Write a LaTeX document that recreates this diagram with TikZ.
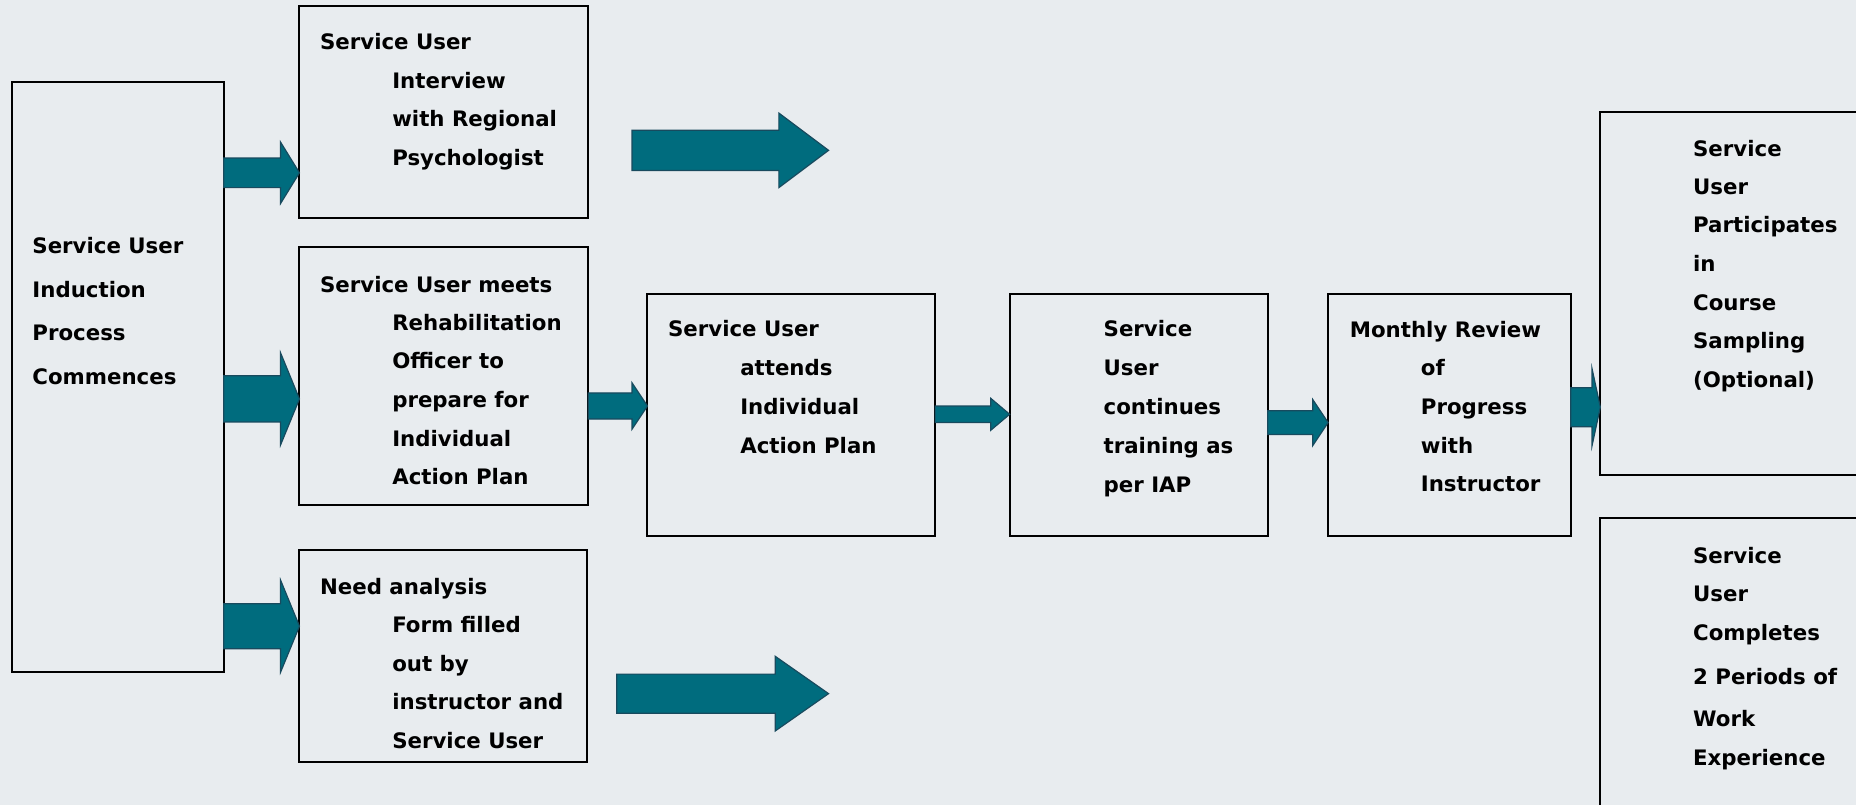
\documentclass[tikz,border=0pt]{standalone}
\usepackage{fontspec}
\setmainfont{DejaVu Sans}
\usetikzlibrary{calc,fit}

\definecolor{pagebg}{RGB}{232,236,239}
\definecolor{arrowfill}{RGB}{0,108,126}
\definecolor{arrowline}{RGB}{24,74,94}

% block arrow: #1 tail point (x used), #2 tip point, #3 shaft half-width,
% #4 head half-width, #5 head length
\newcommand\blockarr[5]{%
  \draw[blockarrow] ($(#1 |- #2)+(0,-#3)$) -- ($(#2)+(-#5,-#3)$)
    -- ($(#2)+(-#5,-#4)$) -- (#2) -- ($(#2)+(-#5,#4)$)
    -- ($(#2)+(-#5,#3)$) -- ($(#1 |- #2)+(0,#3)$) -- cycle;}

% one text node per printed line: entries are text/x/baseline-y
\newcommand\textlines[2]{%
  \foreach \t/\x/\y [count=\i] in {#2}
    \node[txt] (#1-\i) at (\x,\y) {\t};}

\begin{document}
\begin{tikzpicture}[x=0.5pt,y=-0.5pt,
  box/.style={draw=black, line width=0.85pt, inner sep=0pt, outer sep=0pt},
  txt/.style={anchor=base west, inner sep=0pt, text=black,
    font=\fontsize{9pt}{11pt}\selectfont\bfseries},
  blockarrow/.style={fill=arrowfill, draw=arrowline, line width=0.5pt,
    line join=miter}]

\fill[pagebg] (0,0) rectangle (1568,680);
\useasboundingbox (0,0) rectangle (1568,680);
\clip (0,0) rectangle (1568,680);

% process boxes
\node[box, fit={(10,69) (189,568)}] (L) {};
\node[box, fit={(253,5) (497,184)}] (A) {};
\node[box, fit={(253,209) (497,427)}] (B) {};
\node[box, fit={(253,465) (496,644)}] (C) {};
\node[box, fit={(547,248) (790,453)}] (D) {};
\node[box, fit={(853,248) (1071,453)}] (E) {};
\node[box, fit={(1122,248) (1327,453)}] (F) {};
\node[box, fit={(1352,95) (1640,401)}] (G) {};
\node[box, fit={(1352,438) (1640,730)}] (H) {};

% arrow tips on the receiving boxes
\coordinate (tA) at (A.west |- 0,146);
\coordinate (tB) at (B.west |- 0,337);
\coordinate (tC) at (C.west |- 0,529);
\coordinate (tD) at (D.west |- 0,343);
\coordinate (tE) at (E.west |- 0,350);
\coordinate (tF) at (F.west |- 0,357);
\coordinate (tG) at (G.west |- 0,344);
% free-standing arrows
\coordinate (fa1) at (534,127);
\coordinate (fa1tip) at (700,127);
\coordinate (fa2) at (521,586);
\coordinate (fa2tip) at (700,586);

\blockarr{L.east}{tA}{12.5}{26}{16}
\blockarr{L.east}{tB}{19.5}{39}{16}
\blockarr{L.east}{tC}{19}{39}{16}
\blockarr{fa1}{fa1tip}{17}{31.5}{42}
\blockarr{fa2}{fa2tip}{16.5}{31.5}{45}
\blockarr{B.east}{tD}{11}{19.5}{13}
\blockarr{D.east}{tE}{7}{13.5}{16}
\blockarr{E.east}{tF}{10}{19.5}{13}
\blockarr{F.east}{tG}{16.5}{32.5}{7}

% box texts
\textlines{L}{Service User/27/214, Induction/27/251, Process/27/288, Commences/27/325}
\textlines{A}{Service User/270/42, Interview/331/75, with Regional/331/107, Psychologist/331/140}
\textlines{B}{Service User meets/270/247, Rehabilitation/331/279, Officer to/331/311,
  prepare for/331/344, Individual/331/377, Action Plan/331/409}
\textlines{C}{Need analysis/270/502, Form filled/331/534, out by/331/567,
  instructor and/331/599, Service User/331/632}
\textlines{D}{Service User/564/284, attends/625/317, Individual/625/350, Action Plan/625/383}
\textlines{E}{Service/932/284, User/932/317, continues/932/350, training as/932/383, per IAP/932/416}
\textlines{F}{Monthly Review/1140/285, of/1200/317, Progress/1200/350, with/1200/383, Instructor/1200/415}
\textlines{G}{Service/1430/132, User/1430/164, Participates/1430/196, in/1430/229,
  Course/1430/262, Sampling/1430/294, {(Optional)}/1430/327}
\textlines{H}{Service/1430/476, User/1430/508, Completes/1430/541, 2 Periods of/1430/578,
  Work/1430/614, Experience/1430/647}
\end{tikzpicture}
\end{document}
